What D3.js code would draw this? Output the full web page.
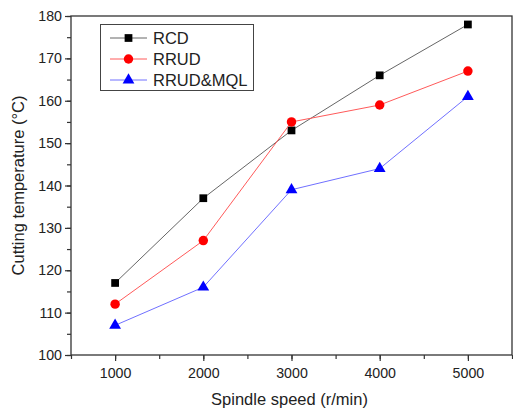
<!DOCTYPE html>
<html><head><meta charset="utf-8">
<script src="https://cdn.jsdelivr.net/npm/d3@7"></script>
<style>body{margin:0;background:#fff}svg{display:block;font-family:Arial,"Liberation Sans",sans-serif}</style>
</head><body><svg id="c" width="513" height="413"></svg>
<script>
const speeds = [1000, 2000, 3000, 4000, 5000];
const rcd = [117, 137, 153, 166, 178];
const rrud = [112, 127, 155, 159, 167];
const rrudMql = [107, 116, 139, 144, 161];
const seriesNames = ["RCD", "RRUD", "RRUD&MQL"];
const xTicks = [1000, 2000, 3000, 4000, 5000];
const yTicks = [100, 110, 120, 130, 140, 150, 160, 170, 180];

const svg = d3.select("#c");
const L = 71, R = 512, T = 16, B = 355;
const x = d3.scaleLinear().domain([500, 5500]).range([L, R]);
const y = d3.scaleLinear().domain([100, 180]).range([B, T]);
const axisCol = "#333";

// frame
svg.append("rect").attr("x", L).attr("y", T).attr("width", R - L).attr("height", B - T)
  .attr("fill", "none").attr("stroke", axisCol).attr("stroke-width", 1.3);

// x axis
const xMinor = d3.range(500, 5501, 500);
const gx = svg.append("g").attr("transform", `translate(0,${B})`);
gx.call(d3.axisBottom(x).tickValues(xMinor).tickSize(4).tickFormat(""))
  .call(g => g.select(".domain").remove())
  .call(g => g.selectAll("line").attr("stroke", axisCol).attr("stroke-width", 1.2));
const gx2 = svg.append("g").attr("transform", `translate(0,${B})`);
gx2.call(d3.axisBottom(x).tickValues(xTicks).tickSize(6).tickPadding(7).tickFormat(d3.format("d")))
  .call(g => g.select(".domain").remove())
  .call(g => g.selectAll("line").attr("stroke", axisCol).attr("stroke-width", 1.2))
  .call(g => g.selectAll("text").attr("font-size", 14.2).attr("fill", "#222").attr("font-family", "Arial, 'Liberation Sans', sans-serif"));

// y axis
const yMinor = d3.range(100, 181, 5);
const gy = svg.append("g").attr("transform", `translate(${L},0)`);
gy.call(d3.axisLeft(y).tickValues(yMinor).tickSize(4).tickFormat(""))
  .call(g => g.select(".domain").remove())
  .call(g => g.selectAll("line").attr("stroke", axisCol).attr("stroke-width", 1.2));
const gy2 = svg.append("g").attr("transform", `translate(${L},0)`);
gy2.call(d3.axisLeft(y).tickValues(yTicks).tickSize(6).tickPadding(3).tickFormat(d3.format("d")))
  .call(g => g.select(".domain").remove())
  .call(g => g.selectAll("line").attr("stroke", axisCol).attr("stroke-width", 1.2))
  .call(g => g.selectAll("text").attr("font-size", 14.2).attr("fill", "#222").attr("font-family", "Arial, 'Liberation Sans', sans-serif"));

// axis titles
svg.append("text").attr("x", (L + R) / 2 - 2).attr("y", 405).attr("text-anchor", "middle")
  .attr("font-size", 16.5).attr("fill", "#222").text("Spindle speed (r/min)");
svg.append("text").attr("transform", `translate(24,${(T + B) / 2}) rotate(-90)`).attr("text-anchor", "middle")
  .attr("font-size", 16.5).attr("fill", "#222").text("Cutting temperature (\u00B0C)");

const series = [
  {name: seriesNames[0], vals: rcd, line: "#666", fill: "#000", shape: d3.symbolSquare, size: 60},
  {name: seriesNames[1], vals: rrud, line: "#ff5a5a", fill: "#ff0000", shape: d3.symbolCircle, size: 70},
  {name: seriesNames[2], vals: rrudMql, line: "#7070ff", fill: "#0000ff", shape: d3.symbolTriangle, size: 60}
];
const line = d3.line().x((d, i) => x(speeds[i])).y(d => y(d));
series.forEach(s => {
  svg.append("path").attr("d", line(s.vals)).attr("fill", "none").attr("stroke", s.line).attr("stroke-width", 1);
  svg.append("g").selectAll("path").data(s.vals).join("path")
    .attr("transform", (d, i) => `translate(${x(speeds[i])},${y(d)})`)
    .attr("d", d3.symbol().type(s.shape).size(s.size)).attr("fill", s.fill);
});

// legend
const lg = svg.append("g");
lg.append("rect").attr("x", 100.5).attr("y", 24.5).attr("width", 153).attr("height", 66)
  .attr("fill", "#fff").attr("stroke", "#444").attr("stroke-width", 1);
series.forEach((s, i) => {
  const yy = 38 + i * 21;
  lg.append("line").attr("x1", 110).attr("x2", 147).attr("y1", yy).attr("y2", yy).attr("stroke", s.line).attr("stroke-width", 1);
  lg.append("path").attr("transform", `translate(128.5,${yy})`).attr("d", d3.symbol().type(s.shape).size(s.size)).attr("fill", s.fill);
  lg.append("text").attr("x", 153).attr("y", yy + 6).attr("font-size", 16.5).attr("fill", "#222").text(s.name);
});
</script></body></html>
